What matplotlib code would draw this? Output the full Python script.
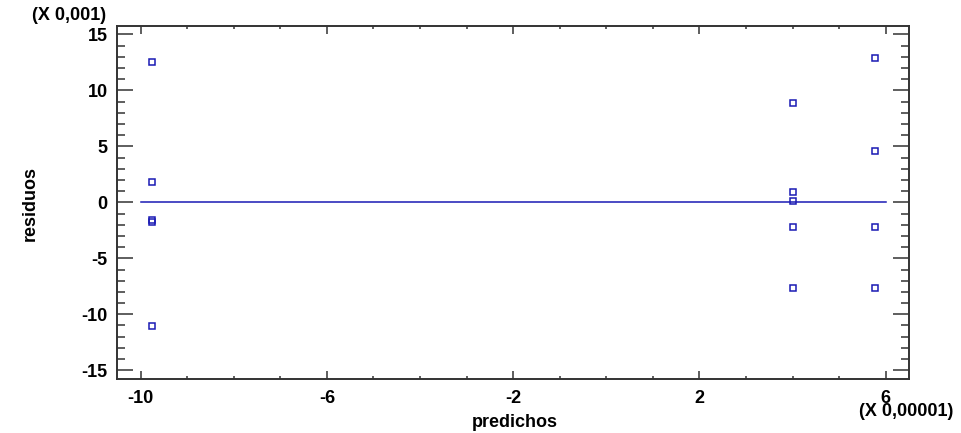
import numpy as np
import matplotlib.pyplot as plt
from matplotlib.ticker import MultipleLocator

plt.rcParams['font.family'] = ['Liberation Sans', 'DejaVu Sans']
plt.rcParams['font.weight'] = 'bold'
plt.rcParams['axes.unicode_minus'] = False

# predicted values (x 1e-5) and residuals (x 1e-3)
predichos = [-9.76, -9.76, -9.76, -9.76, -9.76,
             4.0, 4.0, 4.0, 4.0, 4.0,
             5.78, 5.78, 5.78, 5.78]
residuos = [12.5, 1.84, -1.62, -1.75, -11.07,
            8.84, 0.92, 0.09, -2.23, -7.68,
            12.91, 4.61, -2.23, -7.68]

x_major = [-10, -6, -2, 2, 6]
y_major = [-15, -10, -5, 0, 5, 10, 15]

blue = '#1a1ab4'
edge = '#333333'
fs = 13

fig = plt.figure(figsize=(9.61, 4.33), dpi=100)
ax = fig.add_axes([0.1221, 0.1247, 0.8238, 0.8159])

ax.plot(predichos, residuos, linestyle='none', marker='s', markersize=4.2,
        markerfacecolor='none', markeredgecolor=blue, markeredgewidth=1.1)
ax.plot([-10, 6], [0, 0], color=blue, linewidth=1.1)

ax.set_xlim(-10.5, 6.5)
ax.set_ylim(-15.78, 15.78)
ax.set_xticks(x_major)
ax.set_yticks(y_major)
ax.xaxis.set_minor_locator(MultipleLocator(1))
ax.yaxis.set_minor_locator(MultipleLocator(1))

for s in ax.spines.values():
    s.set_color(edge)
    s.set_linewidth(1.4)

ax.tick_params(axis='x', which='major', direction='in', length=5.5, width=1.1,
               color=edge, top=True, pad=8, labelsize=fs)
ax.tick_params(axis='x', which='minor', direction='in', length=2.5, width=1.1,
               color=edge, top=True)
ax.tick_params(axis='y', which='major', direction='in', length=11.5, width=1.1,
               color=edge, right=True, pad=7, labelsize=fs)
ax.tick_params(axis='y', which='minor', direction='in', length=6, width=1.1,
               color=edge, right=True)

for lbl in ax.get_xticklabels() + ax.get_yticklabels():
    lbl.set_fontweight('bold')

fig.text(0.536, 0.025, 'predichos', ha='center', va='center',
         fontsize=fs, fontweight='bold')
fig.text(0.031, 0.53, 'residuos', ha='center', va='center', rotation=90,
         fontsize=fs, fontweight='bold')
fig.text(0.072, 0.965, '(X 0,001)', ha='center', va='center',
         fontsize=fs, fontweight='bold')
fig.text(0.943, 0.05, '(X 0,00001)', ha='center', va='center',
         fontsize=fs, fontweight='bold')

fig.savefig('out.png', dpi=100)
